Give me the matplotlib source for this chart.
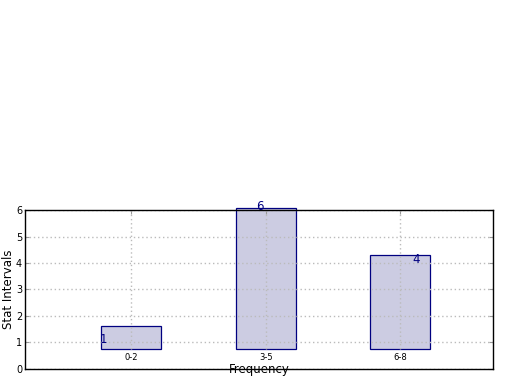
import numpy as np
import matplotlib
matplotlib.use("Agg")
import matplotlib.pyplot as plt

# data
categories = ["0-2", "3-5", "6-8"]
bar_tops = [1.62, 6.07, 4.3]
bar_base = 0.75
bar_labels = ["1", "6", "4"]
label_x = [-0.21, 0.96, 2.12]
label_y = [1.13, 6.15, 4.15]

fig = plt.figure(figsize=(5.2, 3.9), dpi=100)
ax = fig.add_axes([0.048, 0.054, 0.9, 0.4075])

x = np.arange(len(categories))
heights = np.array(bar_tops) - bar_base
bars = ax.bar(x, heights, width=0.446, bottom=bar_base, color="#cccce2",
              edgecolor="navy", linewidth=0.9, zorder=1)
for b in bars:
    b.set_clip_on(False)

ax.set_xlim(-0.79, 2.69)
ax.set_ylim(0, 6)
ax.set_yticks(range(7))

# horizontal grid
ax.grid(axis="y", color="#bbbbbb", linestyle=(0, (1, 2)), linewidth=1.0, zorder=2)
# vertical grid only above the bar baseline
for xi in x:
    ax.axvline(xi, ymin=bar_base / 6, ymax=1, color="#bbbbbb",
               linestyle=(0, (1, 2)), linewidth=1.0, zorder=2)

ax.set_xticks(x)
ax.set_xticklabels([])
ax.tick_params(axis="x", bottom=False, top=True, direction="in", length=3,
               color="#999999")
ax.tick_params(axis="y", left=True, right=True, direction="in", length=3,
               labelsize=7, pad=2, color="#999999")

for xi, c in zip(x, categories):
    ax.text(xi, 0.45, c, ha="center", va="center", fontsize=6)

for tx, ty, t in zip(label_x, label_y, bar_labels):
    ax.text(tx, ty, t, ha="center", va="center", fontsize=8.5, color="navy")

ax.set_ylabel("Stat Intervals", fontsize=8.5)
ax.yaxis.set_label_coords(-0.022, 0.5)
ax.set_xlabel("Frequency", fontsize=8.5)
ax.xaxis.set_label_coords(0.5, 0.035)

for s in ax.spines.values():
    s.set_linewidth(1.0)

fig.savefig("out.png", dpi=100)
